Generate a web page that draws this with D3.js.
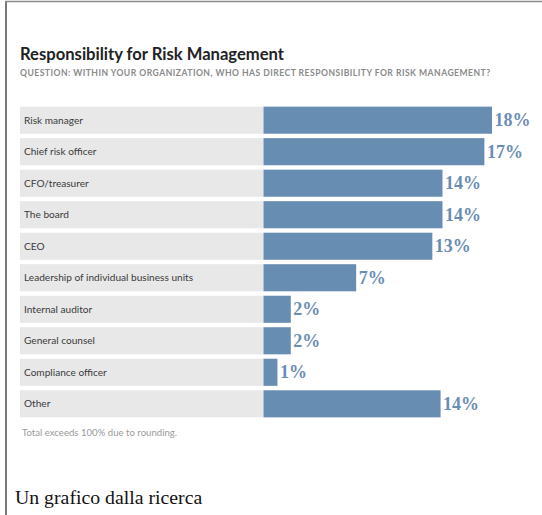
<!DOCTYPE html>
<html>
<head>
<meta charset="utf-8">
<script src="https://cdn.jsdelivr.net/npm/d3@7"></script>
<style>
  html, body { margin: 0; padding: 0; background: #fff; }
  svg { display: block; }
</style>
</head>
<body>
<svg id="chart" width="542" height="515"></svg>
<script>
const categories = [
  "Risk manager",
  "Chief risk officer",
  "CFO/treasurer",
  "The board",
  "CEO",
  "Leadership of individual business units",
  "Internal auditor",
  "General counsel",
  "Compliance officer",
  "Other"
];
// bar lengths (labels are rounded)
const values = [18, 17.4, 14.1, 14.1, 13.3, 7.3, 2.15, 2.15, 1.1, 13.95];
const valueLabels = ["18%", "17%", "14%", "14%", "13%", "7%", "2%", "2%", "1%", "14%"];

const titleText = "Responsibility for Risk Management";
const subtitleText = "QUESTION: WITHIN YOUR ORGANIZATION, WHO HAS DIRECT RESPONSIBILITY FOR RISK MANAGEMENT?";
const noteText = "Total exceeds 100% due to rounding.";
const captionText = "Un grafico dalla ricerca";

const svg = d3.select("#chart");

// frame lines
svg.append("line").attr("x1", 6).attr("x2", 6).attr("y1", 1).attr("y2", 515)
  .attr("stroke", "#7a7a7a").attr("stroke-width", 2);
svg.append("line").attr("x1", 5).attr("x2", 542).attr("y1", 1.5).attr("y2", 1.5)
  .attr("stroke", "#8a8a8a").attr("stroke-width", 1.5);

const data = categories.map((c, i) => ({ cat: c, v: values[i], lab: valueLabels[i] }));

const y = d3.scaleBand().domain(categories).range([106, 418]).paddingInner(0.14).paddingOuter(0.02);
const x = d3.scaleLinear().domain([0, 18]).range([263.5, 492]);
const labelLeft = 20;

// title and subtitle
svg.append("text").attr("x", 20).attr("y", 60)
  .attr("font-family", "Lato, 'Open Sans', sans-serif").attr("font-weight", 700)
  .attr("font-size", 16.6).attr("fill", "#222").text(titleText);
svg.append("text").attr("x", 20).attr("y", 76)
  .attr("font-family", "Lato, 'Open Sans', sans-serif").attr("font-weight", 700)
  .attr("font-size", 8.6).attr("fill", "#8a8a8a").attr("letter-spacing", 0.47).text(subtitleText);

const rows = svg.append("g").selectAll("g").data(data).join("g");

rows.append("rect")
  .attr("x", labelLeft).attr("y", d => y(d.cat))
  .attr("width", x(0) - labelLeft).attr("height", y.bandwidth())
  .attr("fill", "#e8e8e9");

rows.append("rect")
  .attr("x", x(0)).attr("y", d => y(d.cat))
  .attr("width", d => x(d.v) - x(0)).attr("height", y.bandwidth())
  .attr("fill", "#688db3");

rows.append("text")
  .attr("x", 24).attr("y", d => y(d.cat) + y.bandwidth() / 2 + 3.4)
  .attr("font-family", "Lato, 'Open Sans', sans-serif").attr("font-size", 10.1)
  .attr("fill", "#3a3a3a").text(d => d.cat);

rows.append("text")
  .attr("x", d => x(d.v) + 2.5).attr("y", d => y(d.cat) + y.bandwidth() / 2 + 6)
  .attr("font-family", "'Liberation Serif', 'DejaVu Serif', serif").attr("font-weight", 700)
  .attr("font-size", 18).attr("fill", "#6a8db3").text(d => d.lab);

svg.append("text").attr("x", 22).attr("y", 436)
  .attr("font-family", "Lato, 'Open Sans', sans-serif").attr("font-size", 9.6)
  .attr("fill", "#9a9a9a").text(noteText);

svg.append("text").attr("x", 15).attr("y", 504)
  .attr("font-family", "'Liberation Serif', 'DejaVu Serif', serif")
  .attr("font-size", 19.8).attr("fill", "#111").text(captionText);
</script>
</body>
</html>
